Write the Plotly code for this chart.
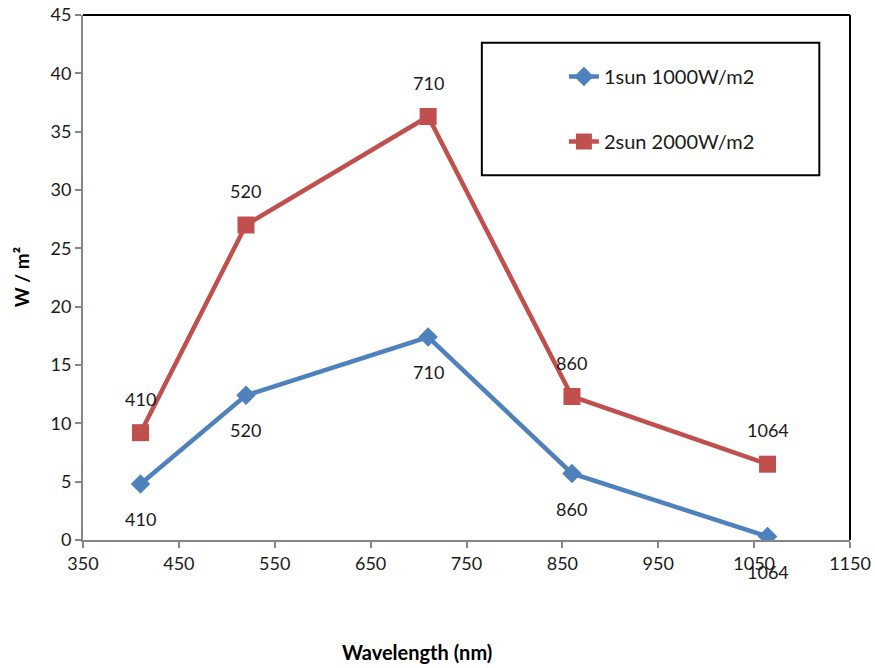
import plotly.graph_objects as go

# Wavelength (nm) and irradiance readings (W/m²)
wavelength = [410, 520, 710, 860, 1064]
sun1 = [4.8, 12.4, 17.4, 5.7, 0.3]
sun2 = [9.2, 27.0, 36.3, 12.3, 6.5]
series_names = ["1sun 1000W/m2", "2sun 2000W/m2"]
x_ticks = [350, 450, 550, 650, 750, 850, 950, 1050, 1150]
y_ticks = [0, 5, 10, 15, 20, 25, 30, 35, 40, 45]

BLUE = "#4F81BD"
RED = "#C0504D"
FONT = "Lato, 'Open Sans', sans-serif"

fig = go.Figure()
fig.add_trace(go.Scatter(
    x=wavelength, y=sun1, mode="lines+markers", name=series_names[0],
    legendgroup="a",
    line=dict(color=BLUE, width=4.5),
    marker=dict(symbol="diamond", size=15, color=BLUE),
))
fig.add_trace(go.Scatter(
    x=wavelength, y=sun2, mode="lines+markers", name=series_names[1],
    legendgroup="b",
    line=dict(color=RED, width=4.5),
    marker=dict(symbol="square", size=17, color=RED),
))

# Wavelength labels: below the 1-sun points, above the 2-sun points
annotations = []
for wl, v in zip(wavelength, sun1):
    annotations.append(dict(x=wl, y=v, text=str(wl), showarrow=False,
                            yshift=-35, font=dict(size=18, color="#1a1a1a")))
for wl, v in zip(wavelength, sun2):
    annotations.append(dict(x=wl, y=v, text=str(wl), showarrow=False,
                            yshift=34, font=dict(size=18, color="#1a1a1a")))

# Axis titles
annotations.append(dict(x=0.435, y=-0.213, xref="paper", yref="paper",
                        text="<b>Wavelength (nm)</b>", showarrow=False,
                        yanchor="middle", font=dict(size=20, color="black")))
annotations.append(dict(x=-0.08, y=0.5, xref="paper", yref="paper",
                        text="<b>W / m²</b>", showarrow=False, textangle=-90,
                        xanchor="center", yanchor="middle",
                        font=dict(size=19, color="black")))

fig.update_layout(
    width=875, height=668,
    margin=dict(l=83, r=25, t=15, b=128, autoexpand=False),
    paper_bgcolor="white", plot_bgcolor="white",
    font=dict(family=FONT, size=18, color="#1a1a1a"),
    showlegend=True,
    legend=dict(x=0.627, y=0.92, xanchor="left", yanchor="top",
                bgcolor="rgba(0,0,0,0)", borderwidth=0,
                tracegroupgap=36, font=dict(size=20, color="#1a1a1a")),
    annotations=annotations,
    shapes=[
        # plot frame top and right edges
        dict(type="line", xref="paper", yref="paper", x0=0, x1=1, y0=1, y1=1,
             line=dict(color="black", width=2)),
        dict(type="line", xref="paper", yref="paper", x0=1, x1=1, y0=0, y1=1,
             line=dict(color="black", width=2)),
        # legend box
        dict(type="rect", xref="paper", yref="paper",
             x0=0.520, x1=0.960, y0=0.695, y1=0.947,
             line=dict(color="black", width=2), fillcolor="rgba(0,0,0,0)"),
    ],
)

fig.update_xaxes(
    range=[350, 1150], tickvals=x_ticks, showgrid=False, zeroline=False,
    automargin=False,
    showline=True, linecolor="#868686", linewidth=2,
    ticks="outside", ticklen=6, tickcolor="#868686", tickwidth=2,
    tickfont=dict(size=18, color="#1a1a1a"),
)
fig.update_yaxes(
    range=[0, 45], tickvals=y_ticks, showgrid=False, zeroline=False,
    automargin=False,
    showline=True, linecolor="#868686", linewidth=2,
    ticks="outside", ticklen=6, tickcolor="#868686", tickwidth=2,
    tickfont=dict(size=18, color="#1a1a1a"),
)

fig.write_html("out.html")
